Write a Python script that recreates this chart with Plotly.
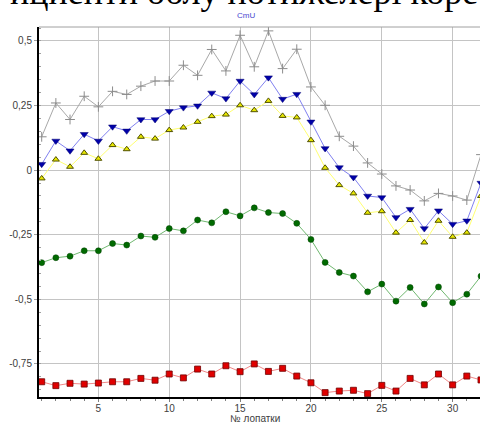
import plotly.graph_objects as go

blades = list(range(1, 33))

gray_vals = [0.129, 0.26, 0.196, 0.286, 0.245, 0.305, 0.293, 0.325, 0.345, 0.345,
             0.406, 0.367, 0.467, 0.384, 0.522, 0.400, 0.539, 0.393, 0.468, 0.322,
             0.251, 0.131, 0.093, 0.028, -0.015, -0.061, -0.077, -0.119, -0.090, -0.100,
             -0.116, 0.06]
blue_vals = [0.023, 0.113, 0.075, 0.139, 0.113, 0.168, 0.152, 0.196, 0.196, 0.228,
             0.242, 0.249, 0.299, 0.277, 0.345, 0.293, 0.358, 0.275, 0.294, 0.187,
             0.084, 0.010, -0.028, -0.100, -0.106, -0.183, -0.151, -0.226, -0.157, -0.209,
             -0.196, -0.05]
yellow_vals = [-0.032, 0.041, 0.013, 0.067, 0.044, 0.097, 0.081, 0.129, 0.122, 0.155,
               0.165, 0.187, 0.209, 0.215, 0.251, 0.232, 0.268, 0.210, 0.204, 0.116,
               0.009, -0.058, -0.090, -0.165, -0.159, -0.242, -0.193, -0.280, -0.196, -0.258,
               -0.242, -0.10]
green_vals = [-0.358, -0.339, -0.333, -0.312, -0.312, -0.284, -0.290, -0.255, -0.260, -0.226,
              -0.235, -0.193, -0.204, -0.161, -0.177, -0.146, -0.164, -0.168, -0.206, -0.268,
              -0.357, -0.396, -0.410, -0.471, -0.441, -0.507, -0.454, -0.518, -0.452, -0.513,
              -0.480, -0.41]
red_vals = [-0.819, -0.834, -0.825, -0.828, -0.824, -0.819, -0.819, -0.806, -0.813, -0.789,
            -0.804, -0.770, -0.789, -0.757, -0.780, -0.750, -0.779, -0.767, -0.797, -0.823,
            -0.861, -0.855, -0.852, -0.865, -0.833, -0.855, -0.806, -0.831, -0.789, -0.831,
            -0.797, -0.812]

y_tickvals = [0.5, 0.25, 0, -0.25, -0.5, -0.75]
y_ticktext = ["0,5", "0,25", "0", "-0,25", "-0,5", "-0,75"]
x_tickvals = [5, 10, 15, 20, 25, 30]

fig = go.Figure()

def add(vals, line_color, marker):
    fig.add_trace(go.Scatter(x=blades, y=vals, mode="lines+markers",
                             line=dict(color=line_color, width=1),
                             marker=marker, showlegend=False, cliponaxis=True))

add(gray_vals, "#a8a8a8", dict(symbol="cross-thin-open", size=7, color="#8c8c8c",
                               line=dict(color="#8c8c8c", width=1)))
add(blue_vals, "#8080f0", dict(symbol="triangle-down", size=7, color="#0000a8",
                               line=dict(color="#000070", width=0.5)))
add(yellow_vals, "#ffff70", dict(symbol="triangle-up", size=6, color="#e8e800",
                                 line=dict(color="#505000", width=1)))
add(green_vals, "#70b870", dict(symbol="circle", size=6, color="#006a00",
                                line=dict(color="#004000", width=0.5)))
add(red_vals, "#f08888", dict(symbol="square", size=6, color="#e00000",
                              line=dict(color="#700000", width=0.8)))

tick_font = dict(family="Liberation Sans, Arial, sans-serif", size=10, color="#404040")

fig.update_layout(
    width=480, height=422,
    margin=dict(l=39, r=0, t=27, b=25, autoexpand=False),
    paper_bgcolor="white", plot_bgcolor="white",
    xaxis=dict(range=[0.81, 31.93], tickvals=x_tickvals, ticks="outside", ticklen=3,
               tickcolor="#808080", showgrid=True, gridcolor="#c4c4c4", gridwidth=1,
               zeroline=False, showline=True, linecolor="black", linewidth=2,
               tickfont=tick_font, automargin=False, ticklabelstandoff=-2,
               minor=dict(dtick=1, ticks="outside", ticklen=2, tickcolor="#808080", showgrid=False)),
    yaxis=dict(range=[-0.878, 0.554], tickvals=y_tickvals, ticktext=y_ticktext,
               ticks="outside", ticklen=3, tickcolor="#a0a0a0",
               showgrid=True, gridcolor="#c4c4c4", gridwidth=1,
               zeroline=False, showline=True, linecolor="black", linewidth=2,
               tickfont=tick_font, automargin=False,
               minor=dict(dtick=0.05, ticks="inside", ticklen=2, tickcolor="#a0a0a0", showgrid=False)),
    shapes=[dict(type="line", xref="paper", yref="paper", x0=0, x1=1, y0=1, y1=1,
                 line=dict(color="#a0a0a0", width=1))],
    annotations=[
        dict(text="ициенти облу нотижелері коре", xref="paper", yref="paper",
             x=0.465, y=1.035, xanchor="center", yanchor="bottom", showarrow=False,
             font=dict(family="Liberation Serif, Times New Roman, serif", size=36, color="black")),
        dict(text="CmU", xref="paper", yref="paper", x=0.469, y=1.031,
             xanchor="center", yanchor="middle", showarrow=False,
             font=dict(family="Liberation Sans, Arial, sans-serif", size=8, color="#4848d0")),
        dict(text="№ лопатки", xref="paper", yref="paper", x=0.49, y=-0.057,
             xanchor="center", yanchor="middle", showarrow=False,
             font=dict(family="Liberation Sans, Arial, sans-serif", size=10, color="#404040")),
    ],
)

# remove the default page margin so the figure fills the 480x422 window exactly
fig.write_html("out.html", config={"displayModeBar": False},
               post_script="document.body.style.margin='0px';")
